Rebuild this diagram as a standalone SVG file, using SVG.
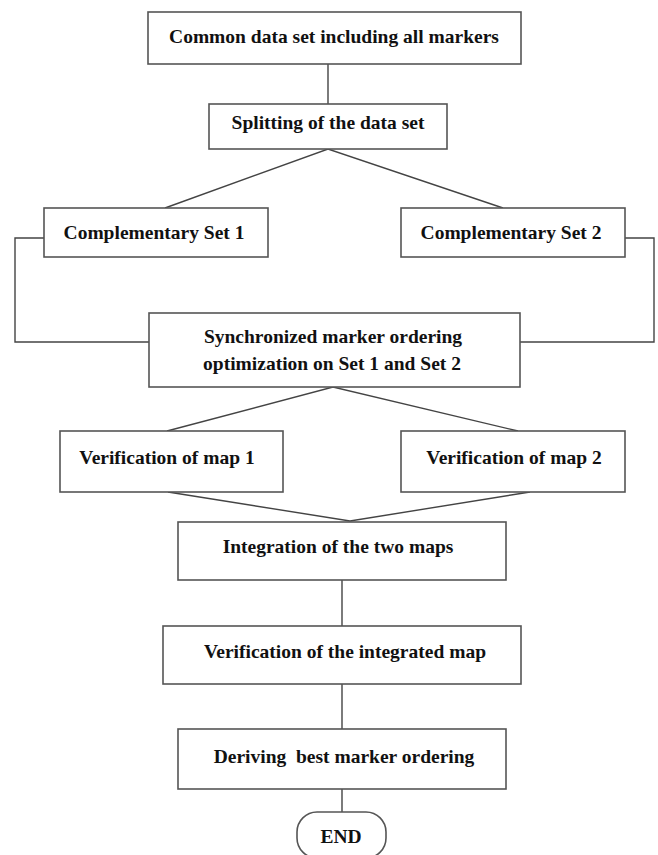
<svg xmlns="http://www.w3.org/2000/svg" width="658" height="855" viewBox="0 0 658 855">
<style>
.box{fill:#fff;stroke:#555;stroke-width:1.6}
.lbl{font-family:"Liberation Serif","Times New Roman",serif;font-weight:bold;font-size:19.5px;fill:#111;text-anchor:middle}
.conn{fill:none;stroke:#444;stroke-width:1.4}
</style>
<rect width="658" height="855" fill="#fff"/>
<g id="connectors" class="conn">
<line x1="328" y1="64" x2="328" y2="104"/>
<polyline points="165,208 328,149 503,208"/>
<polyline points="44,238 15,238 15,342 149,342"/>
<polyline points="625,238 654,238 654,342 520,342"/>
<polyline points="167,431 333,387 518,431"/>
<polyline points="168,492 350,521 530,492"/>
<line x1="342" y1="580" x2="342" y2="626"/>
<line x1="342" y1="684" x2="342" y2="729"/>
<line x1="342" y1="789" x2="342" y2="812"/>
</g>
<g id="n1"><rect class="box" x="148" y="12" width="373" height="52"/><text class="lbl" x="334" y="43">Common data set including all markers</text></g>
<g id="n2"><rect class="box" x="209" y="104" width="238" height="45"/><text class="lbl" x="328" y="129">Splitting of the data set</text></g>
<g id="n3"><rect class="box" x="44" y="208" width="224" height="49"/><text class="lbl" x="154" y="239">Complementary Set 1</text></g>
<g id="n4"><rect class="box" x="401" y="208" width="224" height="49"/><text class="lbl" x="511" y="239">Complementary Set 2</text></g>
<g id="n5"><rect class="box" x="149" y="313" width="371" height="74"/><text class="lbl" x="333" y="343">Synchronized marker ordering</text><text class="lbl" x="332" y="370">optimization on Set 1 and Set 2</text></g>
<g id="n6"><rect class="box" x="60" y="431" width="223" height="61"/><text class="lbl" x="167" y="464">Verification of map 1</text></g>
<g id="n7"><rect class="box" x="401" y="431" width="224" height="61"/><text class="lbl" x="514" y="464">Verification of map 2</text></g>
<g id="n8"><rect class="box" x="178" y="522" width="328" height="58"/><text class="lbl" x="338" y="553">Integration of the two maps</text></g>
<g id="n9"><rect class="box" x="163" y="626" width="358" height="58"/><text class="lbl" x="345" y="658">Verification of the integrated map</text></g>
<g id="n10"><rect class="box" x="178" y="729" width="328" height="60"/><text class="lbl" x="344" y="763" xml:space="preserve">Deriving  best marker ordering</text></g>
<g id="n11"><rect class="box" x="297" y="812" width="89" height="46" rx="20" ry="20"/><text class="lbl" x="341" y="843">END</text></g>
</svg>
